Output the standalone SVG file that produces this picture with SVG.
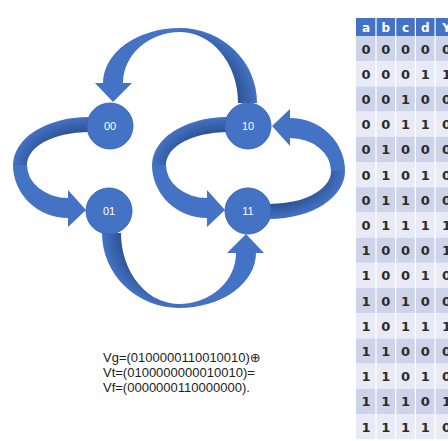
<svg xmlns="http://www.w3.org/2000/svg" xmlns:xlink="http://www.w3.org/1999/xlink" width="448" height="441" viewBox="0 0 448 441">
  <style>
    .front { fill: #4472C4; }
    .node circle { fill: #4472C4; stroke: #3A66B5; stroke-width: 1; }
    .node text { font-family: "Liberation Sans", Arial, sans-serif; font-size: 11px; fill: #ffffff; text-anchor: middle; }
    .hd { fill: #4472C4; }
    .rd { fill: #CDD4EA; }
    .rl { fill: #E8EBF5; }
    .sep { stroke: #ffffff; stroke-width: 1.2; }
    .th { font-family: "DejaVu Sans", Verdana, sans-serif; font-weight: bold; font-size: 12px; fill: #ffffff; text-anchor: middle; }
    .td { font-family: "DejaVu Sans", Verdana, sans-serif; font-weight: bold; font-size: 13px; fill: #2b2b2b; text-anchor: middle; }
    .eq { font-family: "Liberation Sans", Arial, "DejaVu Sans", sans-serif; font-size: 13px; fill: #222222; }
  </style>
  <defs>
    <!-- shading of the back half of each ribbon arrow -->
    <radialGradient id="backH" gradientUnits="userSpaceOnUse" cx="0" cy="0" r="1" gradientTransform="translate(88 165) scale(75 48)">
      <stop offset="0.68" stop-color="#2B5192"/>
      <stop offset="1" stop-color="#4472C4"/>
    </radialGradient>
    <radialGradient id="backV" gradientUnits="userSpaceOnUse" cx="0" cy="0" r="1" gradientTransform="translate(180 103) scale(77 75)">
      <stop offset="0.74" stop-color="#2B5192"/>
      <stop offset="1" stop-color="#4472C4"/>
    </radialGradient>
    <!-- side ribbon arrow: leaves a node on the left, loops round, enters the node below -->
    <g id="arrowSide">
      <path fill="url(#backH)" d="M88,117 A75,48 0 0 0 13,165 L27,167 A61,33 0 0 1 88,132 Z"/>
      <path class="front" d="M13,165 A55,53 0 0 0 68,218 L68,227 L86,210 L68,190 L68,198 A41,33 0 0 1 27,165 Z"/>
    </g>
    <!-- top ribbon arrow: leaves a node upwards, arcs over, enters the node on the left from above -->
    <g id="arrowTop">
      <path fill="url(#backV)" d="M257,103 A77,75 0 0 0 180,28 L178,32 A58,71 0 0 1 238,103 Z"/>
      <path class="front" d="M180,28 A77,55 0 0 0 103,83 L95,83 L113,102 L132,83 L123,83 A57,51 0 0 1 180,32 Z"/>
    </g>
  </defs>

  <!-- state transitions -->
  <g id="connectors">
    <use id="e10-00" xlink:href="#arrowTop"/>
    <use id="e00-01" xlink:href="#arrowSide"/>
    <use id="e10-11" xlink:href="#arrowSide" transform="translate(139 0)"/>
    <use id="e11-10" xlink:href="#arrowSide" transform="translate(358 336) scale(-1)"/>
    <use id="e01-11" xlink:href="#arrowTop" transform="translate(359 336) scale(-1)"/>
  </g>

  <!-- states -->
  <g id="node-00" class="node"><circle cx="110" cy="126" r="23"/><text x="110" y="130">00</text></g>
  <g id="node-10" class="node"><circle cx="248" cy="126" r="23"/><text x="248" y="130">10</text></g>
  <g id="node-01" class="node"><circle cx="109" cy="211" r="23"/><text x="109" y="215">01</text></g>
  <g id="node-11" class="node"><circle cx="248" cy="211" r="23"/><text x="248" y="215">11</text></g>

  <!-- vector equation -->
  <g id="equation">
    <text class="eq" x="103" y="361.5">Vg=(0100000110010010)⊕</text>
    <text class="eq" x="103" y="376.5">Vt=(0100000000010010)=</text>
    <text class="eq" x="103" y="391.5">Vf=(0000000110000000).</text>
  </g>

  <!-- truth table -->
  <g id="truth-table">
    <rect class="hd" x="356" y="18" width="92" height="18"/>
    <rect class="rd" x="356" y="36" width="92" height="25.2"/>
    <rect class="rl" x="356" y="61.2" width="92" height="25.2"/>
    <rect class="rd" x="356" y="86.4" width="92" height="25.2"/>
    <rect class="rl" x="356" y="111.6" width="92" height="25.2"/>
    <rect class="rd" x="356" y="136.8" width="92" height="25.2"/>
    <rect class="rl" x="356" y="162" width="92" height="25.2"/>
    <rect class="rd" x="356" y="187.2" width="92" height="25.2"/>
    <rect class="rl" x="356" y="212.4" width="92" height="25.2"/>
    <rect class="rd" x="356" y="237.6" width="92" height="25.2"/>
    <rect class="rl" x="356" y="262.8" width="92" height="25.2"/>
    <rect class="rd" x="356" y="288" width="92" height="25.2"/>
    <rect class="rl" x="356" y="313.2" width="92" height="25.2"/>
    <rect class="rd" x="356" y="338.4" width="92" height="25.2"/>
    <rect class="rl" x="356" y="363.6" width="92" height="25.2"/>
    <rect class="rd" x="356" y="388.8" width="92" height="25.2"/>
    <rect class="rl" x="356" y="414" width="92" height="25.2"/>
    <line class="sep" x1="376" y1="18" x2="376" y2="439.2"/>
    <line class="sep" x1="395.7" y1="18" x2="395.7" y2="439.2"/>
    <line class="sep" x1="415.4" y1="18" x2="415.4" y2="439.2"/>
    <line class="sep" x1="435.1" y1="18" x2="435.1" y2="439.2"/>

    <text class="th" x="366.1" y="31.5">a</text>
    <text class="th" x="385.8" y="31.5">b</text>
    <text class="th" x="405.5" y="31.5">c</text>
    <text class="th" x="425.2" y="31.5">d</text>
    <text class="th" x="446.5" y="31.5">Y</text>

    <text class="td" x="366.1" y="53.6">0</text><text class="td" x="385.8" y="53.6">0</text><text class="td" x="405.5" y="53.6">0</text><text class="td" x="425.2" y="53.6">0</text><text class="td" x="446.5" y="53.6">0</text>
    <text class="td" x="366.1" y="78.8">0</text><text class="td" x="385.8" y="78.8">0</text><text class="td" x="405.5" y="78.8">0</text><text class="td" x="425.2" y="78.8">1</text><text class="td" x="446.5" y="78.8">1</text>
    <text class="td" x="366.1" y="104">0</text><text class="td" x="385.8" y="104">0</text><text class="td" x="405.5" y="104">1</text><text class="td" x="425.2" y="104">0</text><text class="td" x="446.5" y="104">0</text>
    <text class="td" x="366.1" y="129.2">0</text><text class="td" x="385.8" y="129.2">0</text><text class="td" x="405.5" y="129.2">1</text><text class="td" x="425.2" y="129.2">1</text><text class="td" x="446.5" y="129.2">0</text>
    <text class="td" x="366.1" y="154.4">0</text><text class="td" x="385.8" y="154.4">1</text><text class="td" x="405.5" y="154.4">0</text><text class="td" x="425.2" y="154.4">0</text><text class="td" x="446.5" y="154.4">0</text>
    <text class="td" x="366.1" y="179.6">0</text><text class="td" x="385.8" y="179.6">1</text><text class="td" x="405.5" y="179.6">0</text><text class="td" x="425.2" y="179.6">1</text><text class="td" x="446.5" y="179.6">0</text>
    <text class="td" x="366.1" y="204.8">0</text><text class="td" x="385.8" y="204.8">1</text><text class="td" x="405.5" y="204.8">1</text><text class="td" x="425.2" y="204.8">0</text><text class="td" x="446.5" y="204.8">0</text>
    <text class="td" x="366.1" y="230">0</text><text class="td" x="385.8" y="230">1</text><text class="td" x="405.5" y="230">1</text><text class="td" x="425.2" y="230">1</text><text class="td" x="446.5" y="230">1</text>
    <text class="td" x="366.1" y="255.2">1</text><text class="td" x="385.8" y="255.2">0</text><text class="td" x="405.5" y="255.2">0</text><text class="td" x="425.2" y="255.2">0</text><text class="td" x="446.5" y="255.2">1</text>
    <text class="td" x="366.1" y="280.4">1</text><text class="td" x="385.8" y="280.4">0</text><text class="td" x="405.5" y="280.4">0</text><text class="td" x="425.2" y="280.4">1</text><text class="td" x="446.5" y="280.4">0</text>
    <text class="td" x="366.1" y="305.6">1</text><text class="td" x="385.8" y="305.6">0</text><text class="td" x="405.5" y="305.6">1</text><text class="td" x="425.2" y="305.6">0</text><text class="td" x="446.5" y="305.6">0</text>
    <text class="td" x="366.1" y="330.8">1</text><text class="td" x="385.8" y="330.8">0</text><text class="td" x="405.5" y="330.8">1</text><text class="td" x="425.2" y="330.8">1</text><text class="td" x="446.5" y="330.8">1</text>
    <text class="td" x="366.1" y="356">1</text><text class="td" x="385.8" y="356">1</text><text class="td" x="405.5" y="356">0</text><text class="td" x="425.2" y="356">0</text><text class="td" x="446.5" y="356">0</text>
    <text class="td" x="366.1" y="381.2">1</text><text class="td" x="385.8" y="381.2">1</text><text class="td" x="405.5" y="381.2">0</text><text class="td" x="425.2" y="381.2">1</text><text class="td" x="446.5" y="381.2">0</text>
    <text class="td" x="366.1" y="406.4">1</text><text class="td" x="385.8" y="406.4">1</text><text class="td" x="405.5" y="406.4">1</text><text class="td" x="425.2" y="406.4">0</text><text class="td" x="446.5" y="406.4">1</text>
    <text class="td" x="366.1" y="431.6">1</text><text class="td" x="385.8" y="431.6">1</text><text class="td" x="405.5" y="431.6">1</text><text class="td" x="425.2" y="431.6">1</text><text class="td" x="446.5" y="431.6">0</text>
  </g>
</svg>
